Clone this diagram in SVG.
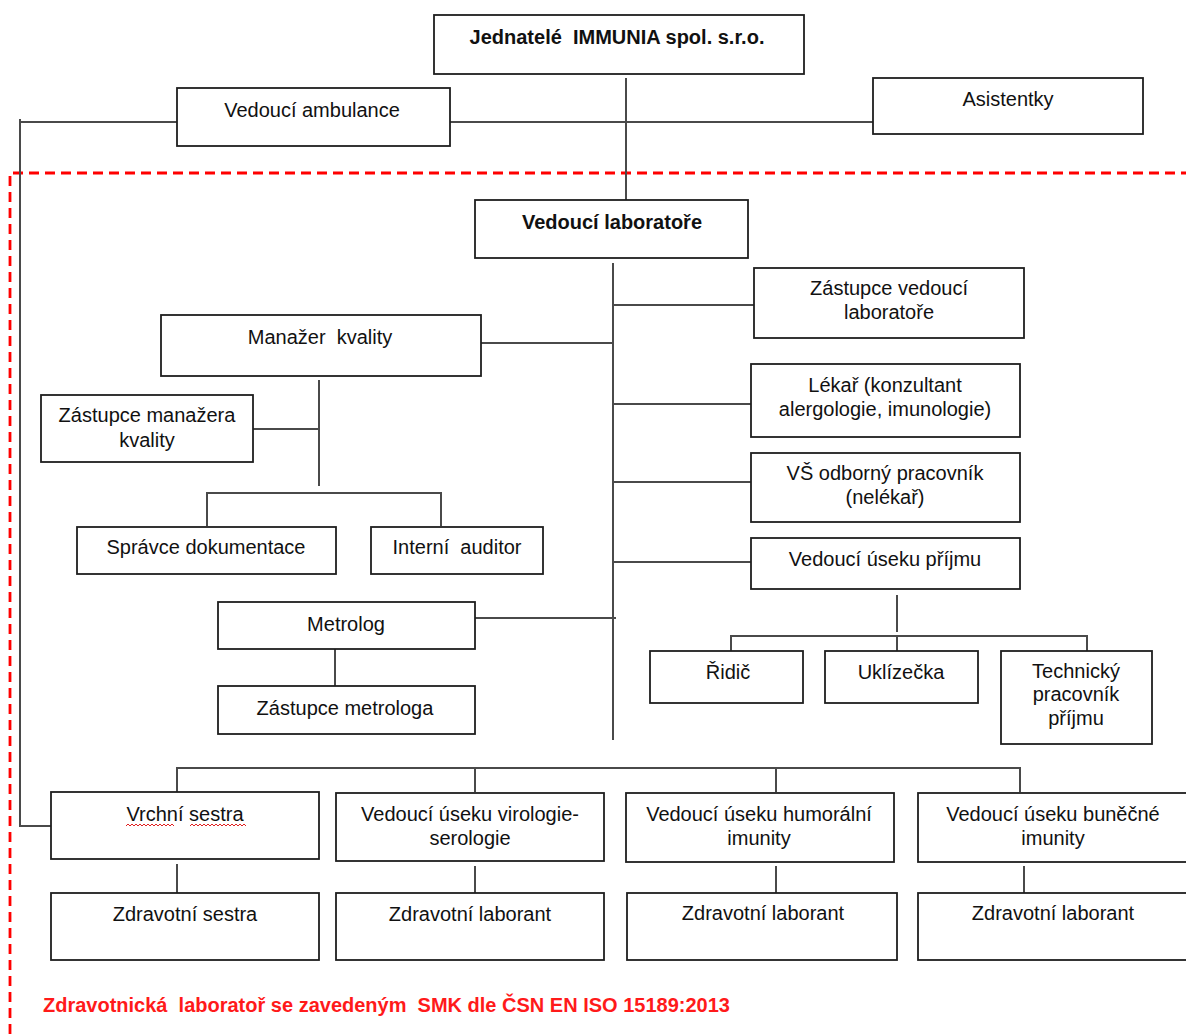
<svg xmlns="http://www.w3.org/2000/svg" width="1186" height="1034" viewBox="0 0 1186 1034">
<style>
.box{fill:#fff;stroke:#1e1e1e;stroke-width:1.8}
.ln{fill:none;stroke:#4a4a4a;stroke-width:2}
.t{font-family:"Liberation Sans",Arial,sans-serif;font-size:20px;fill:#111;text-anchor:middle;white-space:pre}
.b{font-weight:bold}
.red{fill:none;stroke:#ff0000;stroke-width:2.8;stroke-dasharray:10 6}
.rt{font-family:"Liberation Sans",Arial,sans-serif;font-size:20px;font-weight:bold;fill:#ff1a1a;white-space:pre}
</style>
<rect width="1186" height="1034" fill="#fff"/>
<path class="red" d="M10 1034 V173 H1186"/>
<g id="connectors">
<path class="ln" d="M20 122 H873"/>
<path class="ln" d="M20 119 V826 H51"/>
<path class="ln" d="M626 78 V200"/>
<path class="ln" d="M613 263 V740"/>
<path class="ln" d="M613 305 H754"/>
<path class="ln" d="M481 343 H613"/>
<path class="ln" d="M613 404 H751"/>
<path class="ln" d="M613 482 H751"/>
<path class="ln" d="M613 562 H751"/>
<path class="ln" d="M475 618 H616"/>
<path class="ln" d="M319 380 V486"/>
<path class="ln" d="M253 429 H319"/>
<path class="ln" d="M207 526 V493 H441 V526"/>
<path class="ln" d="M335 649 V686"/>
<path class="ln" d="M897 595 V632"/>
<path class="ln" d="M731 651 V636 H1087 V651 M897 636 V651"/>
<path class="ln" d="M177 792 V768 H1020 V792 M475 768 V792 M776 768 V792"/>
<path class="ln" d="M177 864 V893 M475 866 V893 M776 866 V893 M1024 866 V893"/>
</g>
<g id="jednatele"><rect class="box" x="434" y="15" width="370" height="59"/><text class="t b" x="617" y="44">Jednatelé  IMMUNIA spol. s.r.o.</text></g>
<g id="ambulance"><rect class="box" x="177" y="88" width="273" height="58"/><text class="t" x="312" y="117">Vedoucí ambulance</text></g>
<g id="asistentky"><rect class="box" x="873" y="78" width="270" height="56"/><text class="t" x="1008" y="106">Asistentky</text></g>
<g id="vedouci-lab"><rect class="box" x="475" y="200" width="273" height="58"/><text class="t b" x="612" y="229">Vedoucí laboratoře</text></g>
<g id="zastupce-vedouci"><rect class="box" x="754" y="268" width="270" height="70"/><text class="t" x="889" y="295">Zástupce vedoucí</text><text class="t" x="889" y="319">laboratoře</text></g>
<g id="manazer"><rect class="box" x="161" y="315" width="320" height="61"/><text class="t" x="320" y="344">Manažer  kvality</text></g>
<g id="zastupce-manazera"><rect class="box" x="41" y="395" width="212" height="67"/><text class="t" x="147" y="422">Zástupce manažera</text><text class="t" x="147" y="447">kvality</text></g>
<g id="spravce"><rect class="box" x="77" y="527" width="259" height="47"/><text class="t" x="206" y="554">Správce dokumentace</text></g>
<g id="auditor"><rect class="box" x="371" y="527" width="172" height="47"/><text class="t" x="457" y="554">Interní  auditor</text></g>
<g id="metrolog"><rect class="box" x="218" y="602" width="257" height="47"/><text class="t" x="346" y="631">Metrolog</text></g>
<g id="zastupce-metrologa"><rect class="box" x="218" y="686" width="257" height="48"/><text class="t" x="345" y="715">Zástupce metrologa</text></g>
<g id="lekar"><rect class="box" x="751" y="364" width="269" height="73"/><text class="t" x="885" y="392">Lékař (konzultant</text><text class="t" x="885" y="416">alergologie, imunologie)</text></g>
<g id="vs"><rect class="box" x="751" y="453" width="269" height="69"/><text class="t" x="885" y="480">VŠ odborný pracovník</text><text class="t" x="885" y="504">(nelékař)</text></g>
<g id="prijem"><rect class="box" x="751" y="538" width="269" height="51"/><text class="t" x="885" y="566">Vedoucí úseku příjmu</text></g>
<g id="ridic"><rect class="box" x="650" y="651" width="153" height="52"/><text class="t" x="728" y="679">Řidič</text></g>
<g id="uklizecka"><rect class="box" x="825" y="651" width="153" height="52"/><text class="t" x="901" y="679">Uklízečka</text></g>
<g id="technicky"><rect class="box" x="1001" y="651" width="151" height="93"/><text class="t" x="1076" y="678">Technický</text><text class="t" x="1076" y="701">pracovník</text><text class="t" x="1076" y="725">příjmu</text></g>
<g id="vrchni"><rect class="box" x="51" y="792" width="268" height="67"/><text class="t" x="185" y="821">Vrchní sestra</text><path d="M126 826 l2 -2 l2 2 l2 -2 l2 2 l2 -2 l2 2 l2 -2 l2 2 l2 -2 l2 2 l2 -2 l2 2 l2 -2 l2 2 l2 -2 l2 2 l2 -2 l2 2 l2 -2 l2 2 l2 -2 l2 2 l2 -2 l2 2 M190 826 l2 -2 l2 2 l2 -2 l2 2 l2 -2 l2 2 l2 -2 l2 2 l2 -2 l2 2 l2 -2 l2 2 l2 -2 l2 2 l2 -2 l2 2 l2 -2 l2 2 l2 -2 l2 2 l2 -2 l2 2 l2 -2 l2 2 l2 -2 l2 2 l2 -2 l2 2" fill="none" stroke="#e02020" stroke-width="1"/></g>
<g id="virologie"><rect class="box" x="336" y="793" width="268" height="68"/><text class="t" x="470" y="821">Vedoucí úseku virologie-</text><text class="t" x="470" y="845">serologie</text></g>
<g id="humoralni"><rect class="box" x="626" y="793" width="268" height="69"/><text class="t" x="759" y="821">Vedoucí úseku humorální</text><text class="t" x="759" y="845">imunity</text></g>
<g id="bunecne"><rect class="box" x="918" y="793" width="272" height="69"/><text class="t" x="1053" y="821">Vedoucí úseku buněčné</text><text class="t" x="1053" y="845">imunity</text></g>
<g id="sestra"><rect class="box" x="51" y="893" width="268" height="67"/><text class="t" x="185" y="921">Zdravotní sestra</text></g>
<g id="laborant1"><rect class="box" x="336" y="893" width="268" height="67"/><text class="t" x="470" y="921">Zdravotní laborant</text></g>
<g id="laborant2"><rect class="box" x="627" y="893" width="270" height="67"/><text class="t" x="763" y="920">Zdravotní laborant</text></g>
<g id="laborant3"><rect class="box" x="918" y="893" width="272" height="67"/><text class="t" x="1053" y="920">Zdravotní laborant</text></g>
<text class="rt" x="43" y="1012">Zdravotnická  laboratoř se zavedeným  SMK dle ČSN EN ISO 15189:2013</text>
</svg>
